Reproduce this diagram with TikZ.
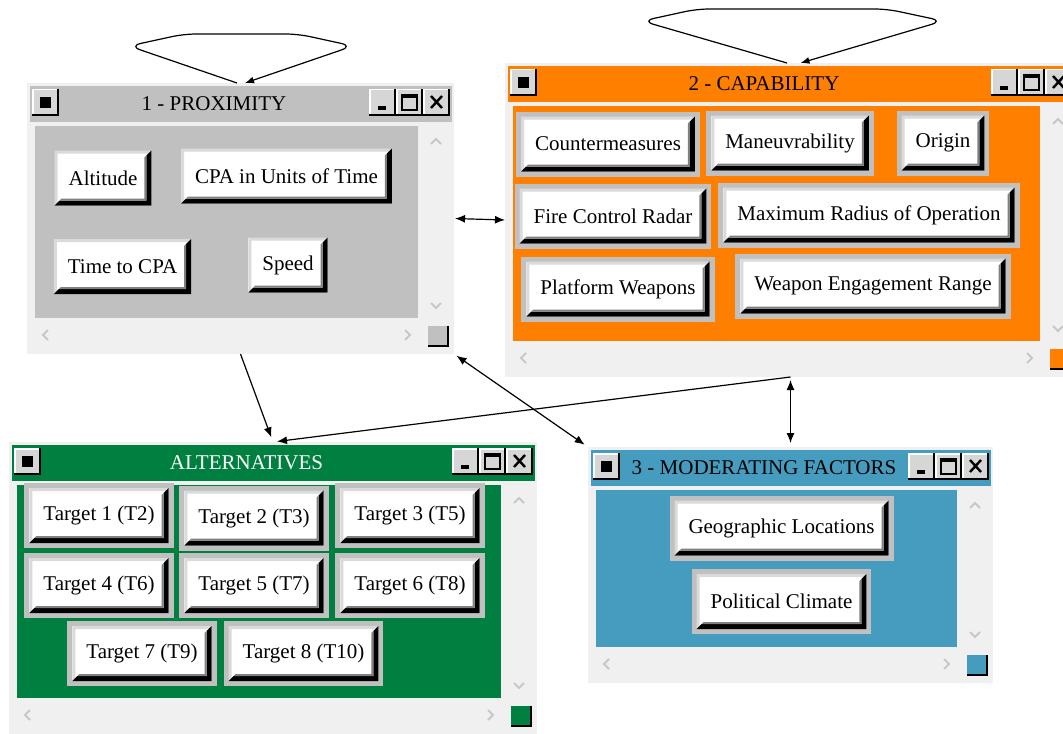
\documentclass[tikz,border=0pt]{standalone}
\usepackage{fontspec}
\setmainfont{Liberation Serif}
\usepackage{tikz}
\usetikzlibrary{arrows.meta,fit}

\definecolor{panelgray}{HTML}{F0F0F0}
\definecolor{proxgray}{HTML}{C0C0C0}
\definecolor{capaorange}{HTML}{FF8000}
\definecolor{altgreen}{HTML}{008040}
\definecolor{modblue}{HTML}{469CBF}
\definecolor{framegray}{HTML}{C0C0C0}
\definecolor{hilite}{HTML}{DADADA}
\definecolor{shadegray}{HTML}{808080}
\definecolor{btnface}{HTML}{D6D6D6}
\definecolor{scrollgray}{HTML}{C8C8C8}

\newcommand{\guifont}{\fontsize{10.5pt}{12pt}\selectfont}

\tikzset{
  winpanel/.style={rectangle, fill=panelgray, inner sep=0pt, outer sep=0pt},
  scrollmark/.style={draw=scrollgray, line width=1pt},
  btn/.style={rectangle, fill=white, font=\guifont, minimum height=27.5pt, inner xsep=7pt,
    preaction={draw=framegray, line width=5pt},
    path picture={
      \coordinate (bsw) at (path picture bounding box.south west);
      \coordinate (bse) at (path picture bounding box.south east);
      \coordinate (bne) at (path picture bounding box.north east);
      \coordinate (bnw) at (path picture bounding box.north west);
      \fill[hilite] (bsw) -- (bnw) -- (bne) -- ([shift={(-1.5pt,-1.5pt)}]bne)
        -- ([shift={(1.5pt,-1.5pt)}]bnw) -- ([shift={(1.5pt,1.5pt)}]bsw) -- cycle;
      \fill[black] (bsw) -- (bse) -- (bne) -- ([shift={(-2.5pt,-2.5pt)}]bne)
        -- ([shift={(-2.5pt,2.5pt)}]bse) -- ([shift={(2.5pt,2.5pt)}]bsw) -- cycle;
      \fill[shadegray] ([shift={(2.5pt,2.5pt)}]bsw) -- ([shift={(-2.5pt,2.5pt)}]bse)
        -- ([shift={(-2.5pt,-2.5pt)}]bne) -- ([shift={(-3.5pt,-3.5pt)}]bne)
        -- ([shift={(-3.5pt,3.5pt)}]bse) -- ([shift={(3.5pt,3.5pt)}]bsw) -- cycle;
    }},
  link/.style={-{Latex[length=5pt,width=4pt]}, line width=0.6pt},
  dlink/.style={{Latex[length=5pt,width=4pt]}-{Latex[length=5pt,width=4pt]}, line width=0.6pt},
  selflink/.style={-{Latex[length=4.5pt,width=3.5pt]}, line width=0.6pt, rounded corners=6pt}
}

% title bar button, top left corner at (#1,#2)
\newcommand{\tbbox}[2]{%
  \fill[btnface] (#1,#2) rectangle (#1+27,#2+27);
  \draw[white, line width=0.75pt] (#1+0.75,#2+26) -- (#1+0.75,#2+0.75) -- (#1+26,#2+0.75);
  \draw[line width=1pt] (#1,#2+26) -- (#1+26,#2+26) -- (#1+26,#2);
}

% window: name, left, top, right, bottom, colour, title, title colour
\newcommand{\appwin}[8]{%
  \node[winpanel, fit={(#2,#3) (#4,#5)}] (#1) {};
  \fill[#6] (#2+3,#3+3) rectangle (#4-2,#3+39);
  \fill[#6] (#2+8,#3+43) rectangle (#4-36,#5-36);
  % scroll bars
  \draw[scrollmark] (#4-23,#3+61) -- (#4-18,#3+56) -- (#4-13,#3+61);
  \draw[scrollmark] (#4-23,#5-51) -- (#4-18,#5-46) -- (#4-13,#5-51);
  \draw[scrollmark] (#2+21,#5-24) -- (#2+16,#5-19) -- (#2+21,#5-14);
  \draw[scrollmark] (#4-49,#5-24) -- (#4-44,#5-19) -- (#4-49,#5-14);
  \fill[#6] (#4-26,#5-28) rectangle (#4-6,#5-8);
  \draw[line width=1pt] (#4-26,#5-8) -- (#4-6,#5-8) -- (#4-6,#5-28);
  % title bar buttons
  \tbbox{#2+5}{#3+6}
  \fill (#2+13,#3+14) rectangle (#2+24,#3+25);
  \tbbox{#4-85}{#3+6}
  \fill (#4-76,#3+23) rectangle (#4-68,#3+27);
  \tbbox{#4-58}{#3+6}
  \draw[line width=1pt] (#4-52,#3+12) rectangle (#4-37,#3+27);
  \fill (#4-52,#3+12) rectangle (#4-37,#3+15);
  \tbbox{#4-31}{#3+6}
  \draw[line width=1.2pt] (#4-23,#3+13) -- (#4-12,#3+25) (#4-23,#3+25) -- (#4-12,#3+13);
  \node[font=\guifont, text=#8, inner sep=0pt] (#1-title) at ({(#2+#4-53)/2},#3+21) {#7};
}

\begin{document}
\begin{tikzpicture}[x=0.5pt, y=-0.5pt]
\useasboundingbox (0,0) rectangle (1063,733);
\clip (0,0) rectangle (1063,733);

% 1 - proximity
\appwin{prox}{27}{83}{454}{354}{proxgray}{1 - PROXIMITY}{black}
\node[btn] (altitude) at (103,178) {Altitude};
\node[btn] (cpatime) at (286.5,176) {CPA in Units of Time};
\node[btn] (timecpa) at (122.5,266.5) {Time to CPA};
\node[btn] (speed) at (288,265) {Speed};

% 2 - capability
\appwin{capa}{505}{63}{1076}{377}{capaorange}{2 - CAPABILITY}{black}
\node[btn] (counter) at (608,144) {Countermeasures};
\node[btn] (maneuv) at (790,143) {Maneuvrability};
\node[btn] (origin) at (943,143) {Origin};
\node[btn] (firectl) at (613,216) {Fire Control Radar};
\node[btn] (maxradius) at (869,215) {Maximum Radius of Operation};
\node[btn] (platform) at (618,289) {Platform Weapons};
\node[btn] (engage) at (873,286) {Weapon Engagement Range};

% alternatives
\appwin{alt}{9}{442}{537}{734}{altgreen}{ALTERNATIVES}{white}
\node[btn] (t1) at (99,515.5) {Target 1 (T2)};
\node[btn] (t2) at (254,518) {Target 2 (T3)};
\node[btn] (t3) at (410,515.5) {Target 3 (T5)};
\node[btn] (t4) at (99,585.5) {Target 4 (T6)};
\node[btn] (t5) at (254,585.5) {Target 5 (T7)};
\node[btn] (t6) at (410,585.5) {Target 6 (T8)};
\node[btn] (t7) at (142,653.5) {Target 7 (T9)};
\node[btn] (t8) at (303.5,653.5) {Target 8 (T10)};

% 3 - moderating factors
\appwin{mod}{588}{447}{993}{683}{modblue}{3 - MODERATING FACTORS}{black}
\node[btn] (geo) at (781.5,528) {Geographic Locations};
\node[btn] (political) at (781.5,601.5) {Political Climate};

% links
\draw[selflink] ([xshift=-1.75pt]prox.north) -- ++(-108,-37) -- ++(55,-12) -- ++(114,0)
  -- ++(55,12) -- ([xshift=2.25pt]prox.north);
\draw[selflink] ([xshift=-1.75pt]capa.north) -- ++(-145,-42) -- ++(55,-12) -- ++(190,0)
  -- ++(56,12) -- ([xshift=5pt]capa.north);
\draw[dlink, shorten <=0.5pt] (prox.east) -- (capa.west);
\draw[link, shorten >=2.5pt] (prox.south) -- (alt.north);
\draw[link, shorten >=2pt] (capa.south) -- (alt.north);
\draw[dlink, shorten <=1.5pt, shorten >=2pt] (capa.south) -- (mod.north);
\draw[dlink, shorten <=1.5pt, shorten >=2pt] (prox.south east) -- (mod.north west);
\end{tikzpicture}
\end{document}
